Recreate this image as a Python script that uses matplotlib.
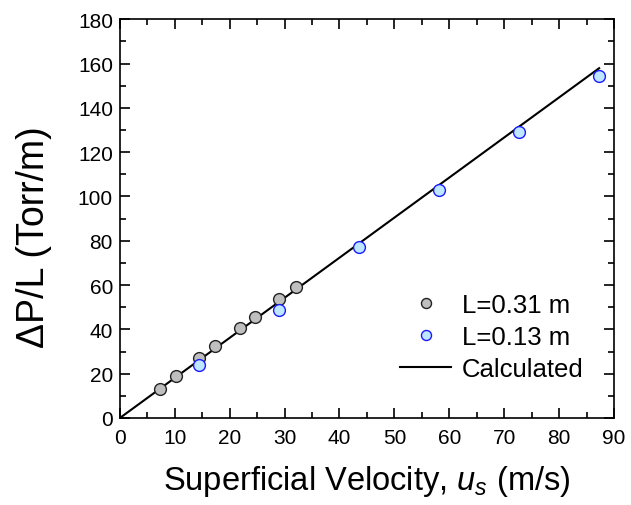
import matplotlib.pyplot as plt
from matplotlib.ticker import MultipleLocator

plt.rcParams['font.family'] = ['Liberation Sans', 'DejaVu Sans']
plt.rcParams['mathtext.fontset'] = 'custom'
plt.rcParams['mathtext.it'] = 'Liberation Sans:italic'
plt.rcParams['mathtext.rm'] = 'Liberation Sans'

# Data
u_long = [7.3, 10.2, 14.4, 17.4, 21.9, 24.6, 29.0, 32.0]
dp_long = [13.1, 18.8, 26.9, 32.5, 40.5, 45.7, 53.7, 59.0]

u_short = [14.4, 29.0, 43.6, 58.2, 72.7, 87.3]
dp_short = [23.9, 48.9, 77.4, 103.0, 128.9, 154.4]

u_calc = [0, 87.3]
dp_calc = [0, 157.9]

fig = plt.figure(figsize=(6.31, 5.06), dpi=100)
ax = fig.add_axes([0.190, 0.172, 0.783, 0.788])

ax.plot(u_calc, dp_calc, color='black', lw=1.5, label='Calculated', zorder=2)
ax.plot(u_long, dp_long, 'o', ms=8.5, mfc=(0.75, 0.75, 0.75), mec='#222222',
        mew=1.0, label='L=0.31 m', zorder=3)
ax.plot(u_short, dp_short, 'o', ms=8.5, mfc=(0.75, 0.9, 1.0), mec='#1a1aff',
        mew=1.0, label='L=0.13 m', zorder=3)

ax.set_xlim(0, 90)
ax.set_ylim(0, 180)
ax.xaxis.set_major_locator(MultipleLocator(10))
ax.xaxis.set_minor_locator(MultipleLocator(5))
ax.yaxis.set_major_locator(MultipleLocator(20))
ax.yaxis.set_minor_locator(MultipleLocator(10))
ax.tick_params(which='both', direction='in', top=True, right=True,
               labelsize=15, width=1.2)
ax.tick_params(axis='x', which='both', pad=7)
ax.tick_params(axis='y', which='both', pad=5)
ax.tick_params(which='major', length=7)
ax.tick_params(which='minor', length=4)
for s in ax.spines.values():
    s.set_linewidth(1.2)

ax.set_xlabel(r'Superficial Velocity, $u_s$ (m/s)', fontsize=23.5, labelpad=12)
ax.set_ylabel('ΔP/L (Torr/m)', fontsize=27)
ax.yaxis.set_label_coords(-0.138, 0.455)

handles, labels = ax.get_legend_handles_labels()
order = [1, 2, 0]
ax.legend([handles[i] for i in order], [labels[i] for i in order],
          loc='lower right', bbox_to_anchor=(0.985, 0.035), frameon=False,
          fontsize=18.5, handlelength=2.0, handletextpad=0.4, labelspacing=0.3,
          markerscale=0.85)

fig.savefig('out.png', dpi=100)
